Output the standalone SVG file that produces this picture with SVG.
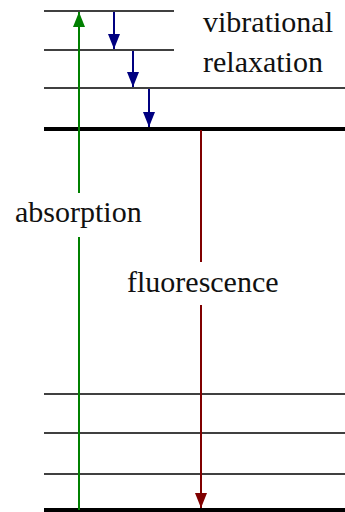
<svg xmlns="http://www.w3.org/2000/svg" width="345" height="512" viewBox="0 0 345 512">
<g id="labels" fill="#111">
<text x="203" y="32" font-size="30" font-family="Times New Roman, Liberation Serif, serif">vibrational</text>
<text x="203" y="72" font-size="30" font-family="Times New Roman, Liberation Serif, serif">relaxation</text>
<text x="15" y="222" font-size="30" font-family="Times New Roman, Liberation Serif, serif">absorption</text>
<text x="127" y="292" font-size="30" font-family="Times New Roman, Liberation Serif, serif">fluorescence</text>
</g>
<defs>
<marker id="hg" markerUnits="userSpaceOnUse" markerWidth="15" markerHeight="12" refX="15" refY="6" orient="auto"><path d="M0,0 L15,6 L0,12 z" fill="#008000"/></marker>
<marker id="hb" markerUnits="userSpaceOnUse" markerWidth="15" markerHeight="12" refX="15" refY="6" orient="auto"><path d="M0,0 L15,6 L0,12 z" fill="#000080"/></marker>
<marker id="hr" markerUnits="userSpaceOnUse" markerWidth="15" markerHeight="12" refX="15" refY="6" orient="auto"><path d="M0,0 L15,6 L0,12 z" fill="#800000"/></marker>
</defs>
<g id="excited" stroke="#000" stroke-width="1.6">
<line x1="44" y1="11" x2="174" y2="11"/>
<line x1="44" y1="50" x2="174" y2="50"/>
<line x1="44" y1="88" x2="345" y2="88"/>
<line x1="44" y1="129" x2="345" y2="129" stroke-width="4"/>
</g>
<g id="ground" stroke="#000" stroke-width="1.6">
<line x1="44" y1="394" x2="345" y2="394"/>
<line x1="44" y1="433" x2="345" y2="433"/>
<line x1="44" y1="474" x2="345" y2="474"/>
<line x1="44" y1="510" x2="345" y2="510" stroke-width="4"/>
</g>
<g id="connectors" fill="none" stroke-width="2">
<line x1="79" y1="510" x2="79" y2="237" stroke="#008000"/>
<line x1="79" y1="193" x2="79" y2="12" stroke="#008000" marker-end="url(#hg)"/>
<line x1="114" y1="12" x2="114" y2="49" stroke="#000080" marker-end="url(#hb)"/>
<line x1="133" y1="51" x2="133" y2="87" stroke="#000080" marker-end="url(#hb)"/>
<line x1="149" y1="89" x2="149" y2="127" stroke="#000080" marker-end="url(#hb)"/>
<line x1="201" y1="130" x2="201" y2="262" stroke="#800000"/>
<line x1="201" y1="305" x2="201" y2="508" stroke="#800000" marker-end="url(#hr)"/>
</g>
</svg>
